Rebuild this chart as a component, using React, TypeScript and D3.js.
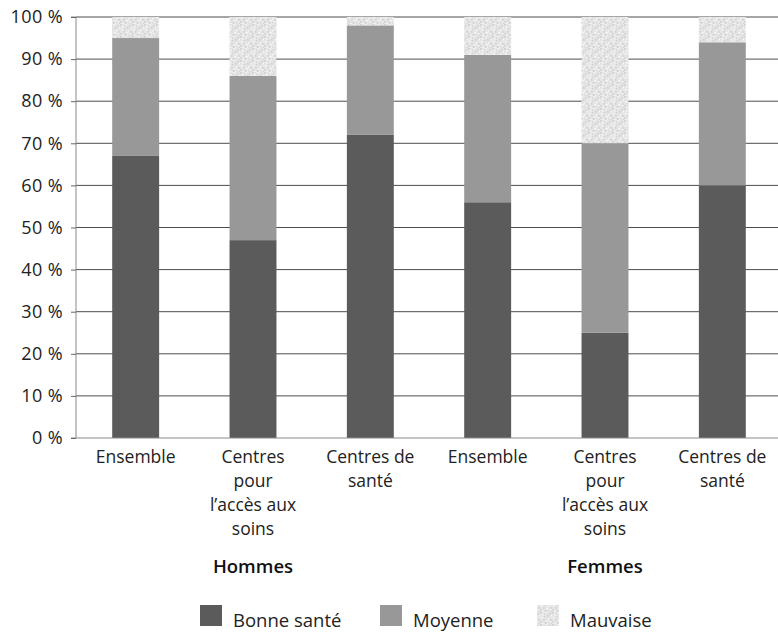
import React, { useEffect, useRef } from "react";
import * as d3 from "d3";

const categories = [
  "Ensemble",
  "Centres\npour\nl’accès aux\nsoins",
  "Centres de\nsanté",
  "Ensemble",
  "Centres\npour\nl’accès aux\nsoins",
  "Centres de\nsanté",
];
const groups = ["Hommes", "Femmes"];
const seriesNames = ["Bonne santé", "Moyenne", "Mauvaise"];
const bonne = [67, 47, 72, 56, 25, 60];
const moyenne = [28, 39, 26, 35, 45, 34];
const mauvaise = [5, 14, 2, 9, 30, 6];
const yTicks = [0, 10, 20, 30, 40, 50, 60, 70, 80, 90, 100];

const W = 778;
const H = 634;
const FONT = "'Open Sans', 'DejaVu Sans', sans-serif";

// speckle positions for the light stippled fill (12x12 tile)
const SPECKLE: [number, number, string][] = [
  [0, 0, "#cfcfcf"], [5, 0, "#f6f6f6"], [9, 1, "#d3d3d3"], [2, 2, "#f4f4f4"],
  [7, 3, "#cdcdcd"], [11, 3, "#f5f5f5"], [4, 4, "#d6d6d6"], [1, 5, "#f7f7f7"],
  [8, 6, "#f3f3f3"], [10, 7, "#d0d0d0"], [3, 7, "#d4d4d4"], [6, 8, "#f6f6f6"],
  [0, 9, "#d2d2d2"], [9, 9, "#f5f5f5"], [5, 10, "#cecece"], [2, 11, "#f4f4f4"],
  [11, 11, "#d5d5d5"], [7, 11, "#f2f2f2"], [4, 1, "#dadada"], [8, 10, "#dadada"],
];

export default function App() {
  const ref = useRef<SVGSVGElement>(null);

  useEffect(() => {
    const svg = d3.select(ref.current);
    svg.selectAll("*").remove();

    const left = 76, right = 778, top = 17, bottom = 438;
    const x = d3.scaleBand<number>().domain(d3.range(categories.length)).range([77, 781]).paddingInner(0.6).paddingOuter(0.3);
    const y = d3.scaleLinear().domain([0, 100]).range([bottom, top]);

    const defs = svg.append("defs");
    const pat = defs.append("pattern").attr("id", "stipple").attr("patternUnits", "userSpaceOnUse").attr("width", 12).attr("height", 12);
    pat.append("rect").attr("width", 12).attr("height", 12).attr("fill", "#e5e5e5");
    SPECKLE.forEach(([dx, dy, c]) => pat.append("rect").attr("x", dx).attr("y", dy).attr("width", 1.6).attr("height", 1.6).attr("fill", c));

    const colors = ["#5b5b5b", "#989898", "url(#stipple)"];

    // gridlines
    svg.append("g").selectAll("line").data(yTicks.filter((t) => t > 0)).join("line")
      .attr("x1", left).attr("x2", right)
      .attr("y1", (d) => y(d)).attr("y2", (d) => y(d))
      .attr("stroke", "#4d4d4d").attr("stroke-width", 1);

    // stacked bars
    const rows = categories.map((_, i) => ({ i, a: bonne[i], b: moyenne[i], c: mauvaise[i] }));
    const stack = d3.stack<any>().keys(["a", "b", "c"])(rows);
    stack.forEach((layer, k) => {
      svg.append("g").selectAll("rect").data(layer).join("rect")
        .attr("x", (d: any) => x(d.data.i)!)
        .attr("width", x.bandwidth())
        .attr("y", (d: any) => y(d[1]))
        .attr("height", (d: any) => y(d[0]) - y(d[1]))
        .attr("fill", colors[k]);
    });

    // y axis
    const yAxis = svg.append("g").attr("transform", `translate(${left},0)`)
      .call(d3.axisLeft(y).tickValues(yTicks).tickSize(5).tickPadding(8).tickFormat((d) => `${d} %`));
    yAxis.select(".domain").attr("stroke", "#8a8a8a").attr("d", `M-5,${top}H0V${bottom}H-5`);
    yAxis.selectAll(".tick line").attr("stroke", "#666");
    yAxis.selectAll("text").attr("font-family", FONT).attr("font-size", 18).attr("fill", "#222")
      .attr("letter-spacing", 0.4);

    // x axis baseline
    svg.append("line").attr("x1", left).attr("x2", right).attr("y1", bottom).attr("y2", bottom).attr("stroke", "#8a8a8a");

    // category labels
    categories.forEach((c, i) => {
      const t = svg.append("text").attr("text-anchor", "middle").attr("font-family", FONT).attr("font-size", 17.5).attr("fill", "#222");
      c.split("\n").forEach((line, j) => {
        t.append("tspan").attr("x", x(i)! + x.bandwidth() / 2).attr("y", 463 + j * 24).text(line);
      });
    });

    // group labels
    groups.forEach((g, gi) => {
      const cx = x(gi * 3 + 1)! + x.bandwidth() / 2;
      svg.append("text").attr("x", cx).attr("y", 573).attr("text-anchor", "middle")
        .attr("font-family", FONT).attr("font-size", 18.5).attr("font-weight", 600).attr("fill", "#111").text(g);
    });

    // legend
    const legendX = [200, 380, 537];
    seriesNames.forEach((n, k) => {
      svg.append("rect").attr("x", legendX[k]).attr("y", 605).attr("width", 22).attr("height", 21).attr("fill", colors[k]);
      svg.append("text").attr("x", legendX[k] + 33).attr("y", 627)
        .attr("font-family", FONT).attr("font-size", 18.5).attr("fill", "#222").text(n);
    });
  }, []);

  return (
    <svg ref={ref} width={W} height={H} style={{ position: "absolute", left: 0, top: 0, background: "#fff" }} />
  );
}
